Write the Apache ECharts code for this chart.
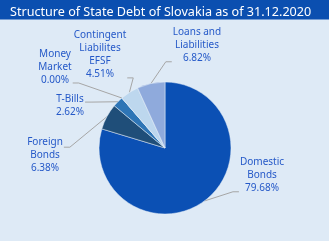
<!DOCTYPE html>
<html><head><meta charset="utf-8">
<script src="https://cdn.jsdelivr.net/npm/echarts@6/dist/echarts.min.js"></script>
<style>html,body{margin:0;padding:0;background:#deeaf6}#c{width:329px;height:241px}</style>
</head><body><div id="c"></div>
<script>
const titleText = 'Structure of State Debt of Slovakia as of 31.12.2020';
const categories = ['Domestic\nBonds', 'Foreign\nBonds', 'T-Bills', 'Money\nMarket', 'Contingent\nLiabilites\nEFSF', 'Loans and\nLiabilities'];
const values = [79.68, 6.38, 2.62, 0.00, 4.51, 6.82];
const colors = ['#0b50b4', '#1f4e79', '#2e75b6', '#9dc3e6', '#bdd7ee', '#8faadc'];
// label layout only: centre x, centre y, leader side (-1 left, 1 right), leader attach fraction of height
const labelPos = [[262, 175, -1, 0.93], [45, 155, 1, 0.3], [70, 106, 1, 0.35], [55, 67, 1, 0.91], [100, 55, 1, 0.94], [197, 45, -1, 0.93]];

const chart = echarts.init(document.getElementById('c'), null, {renderer: 'canvas'});
chart.setOption({
  backgroundColor: '#deeaf6',
  animation: false,
  graphic: [{type: 'rect', shape: {x: 0, y: 0, width: 329, height: 19.5}, style: {fill: '#0b4fb0'}, z: 0}],
  title: {text: titleText, left: 5, top: 1, textStyle: {color: '#ffffff', fontSize: 12.6, fontWeight: 'normal', fontFamily: 'Noto Sans'}},
  series: [{
    type: 'pie',
    center: [165, 148],
    radius: [0, 66],
    startAngle: 90,
    clockwise: true,
    data: categories.map((c, i) => ({name: c, value: values[i], itemStyle: {color: colors[i]}})),
    itemStyle: {borderColor: '#e8f0f8', borderWidth: 0.5},
    label: {
      formatter: p => p.name + '\n' + p.value.toFixed(2) + '%',
      color: '#2559c8', fontSize: 10, lineHeight: 13, fontFamily: 'Noto Sans', align: 'center'
    },
    labelLine: {lineStyle: {color: '#a6a6a6', width: 1}, length: 12, length2: 8},
    labelLayout: p => {
      const [cx, cy, side, f] = labelPos[p.dataIndex];
      const w = p.labelRect.width, h = p.labelRect.height;
      const p0 = p.labelLinePoints ? p.labelLinePoints[0] : [cx, cy];
      const xe = cx + side * (w / 2 + 1);
      const ye = cy - h / 2 + f * h;
      return {x: cx, y: cy, align: 'center', verticalAlign: 'middle',
        labelLinePoints: [p0, [xe + side * 6, ye], [xe, ye]]};
    },
    avoidLabelOverlap: false
  }]
});
</script></body></html>
